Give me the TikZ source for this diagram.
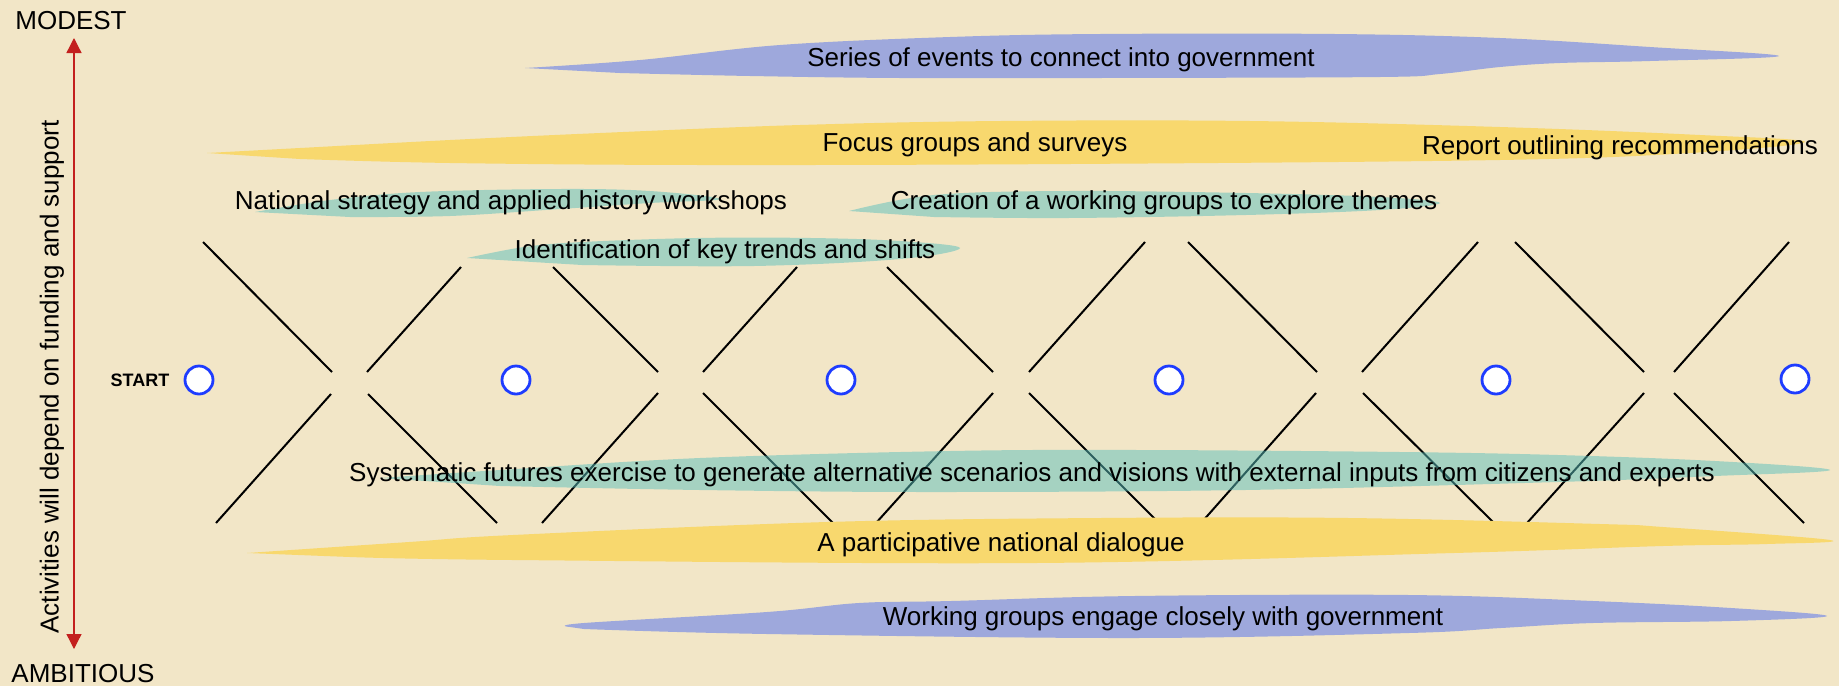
\documentclass[tikz,border=0pt]{standalone}
\usepackage{fontspec}
\setmainfont{Liberation Sans}
\usetikzlibrary{calc,arrows.meta,positioning}
\definecolor{paper}{RGB}{242,230,199}
\definecolor{brushblue}{RGB}{158,168,220}
\definecolor{brushyellow}{RGB}{248,216,110}
\definecolor{brushteal}{RGB}{90,192,189} % shown at half opacity
\definecolor{ringblue}{RGB}{30,60,255}
\definecolor{axisred}{RGB}{195,32,30}
\def\drawarm{\draw[color=black, line width=2pt]}
\def\fillblue{\fill[brushblue]}
\def\fillyellow{\fill[brushyellow]}
\def\fillteal{\fill[brushteal, fill opacity=0.5]}
\def\stagenode{\node[circle,draw=ringblue,fill=white,line width=2.8pt,minimum size=28pt,inner sep=0pt]}
\def\labelnode{\node[font=\fontsize{26}{30}\selectfont,inner sep=0pt]}

\begin{document}
\begin{tikzpicture}[x=1pt,y=-1pt]
\fill[paper] (0,0) rectangle (1839,686);
\useasboundingbox (0,0) rectangle (1839,686);

% ---------- the axis on the left
\coordinate (axtop) at (74,38);
\coordinate (axbot) at (74,649);
\draw[axisred, line width=1.3pt, {Triangle[width=15pt,length=15pt]}-{Triangle[width=15pt,length=15pt]}] (axtop) -- (axbot);
\labelnode (modest) at (71,21) {MODEST};
\labelnode (ambitious) at (83,674) {AMBITIOUS};
\labelnode[rotate=90] (axislabel) at (52,377) {Activities will depend on funding and support};

% ---------- the crossings between the stages
% X 1
\drawarm (203,242) -- (332,372);
\drawarm (367,372) -- (461,267);
\drawarm (331,394) -- (216,523);
\drawarm (368,394) -- (497,523);
% X 2
\drawarm (553,267) -- (658,372);
\drawarm (703,372) -- (797,267);
\drawarm (658,393) -- (542,523);
\drawarm (703,393) -- (833,523);
% X 3
\drawarm (887,267) -- (993,372);
\drawarm (1029,372) -- (1145,242);
\drawarm (993,393) -- (876,523);
\drawarm (1029,393) -- (1159,523);
% X 4
\drawarm (1188,242) -- (1317,372);
\drawarm (1362,372) -- (1478,242);
\drawarm (1316,393) -- (1201,523);
\drawarm (1363,393) -- (1494,523);
% X 5
\drawarm (1515,242) -- (1644,372);
\drawarm (1674,372) -- (1789,242);
\drawarm (1644,393) -- (1527,523);
\drawarm (1674,393) -- (1804,523);

% ---------- brush strokes, modest at the top
\fillblue plot[smooth, tension=0.6] coordinates {(525,68) (640,60) (780,45) (950,37) (1100,34) (1335,34) (1500,38) (1650,47) (1779,56) (1650,61) (1560,63) (1500,67) (1440,74) (1380,77) (1100,78) (900,78) (750,76) (620,73)} -- cycle;
\fillyellow plot[smooth, tension=0.6] coordinates {(207,153) (300,148) (450,140) (600,133) (800,125) (1000,121) (1250,121) (1500,127) (1700,135) (1805,142) (1690,153) (1500,160) (1070,164) (700,165) (450,163) (300,159)} -- cycle;
\fillteal plot[smooth, tension=0.6] coordinates {(255,212) (330,200) (420,192) (560,189) (650,191) (720,199) (650,203) (560,209) (450,216) (350,217)} -- cycle;
\fillteal plot[smooth, tension=0.6] coordinates {(849,211) (934,195) (1068,191) (1246,193) (1380,197) (1440,203) (1380,210) (1246,215) (1068,218) (934,217)} -- cycle;
\fillteal plot[smooth, tension=0.6] coordinates {(467,258) (524,247) (582,242) (697,238) (811,238) (900,241) (960,248) (900,259) (754,266) (582,265)} -- cycle;

% ---------- brush strokes, ambitious at the bottom
\fillteal plot[smooth, tension=0.6] coordinates {(380,478) (500,470) (700,458) (950,451) (1140,450) (1400,452) (1558,455) (1715,461) (1830,470) (1715,476) (1558,482) (1245,490) (931,492) (700,490) (500,486)} -- cycle;
\fillyellow plot[smooth, tension=0.6] coordinates {(247,553) (409,542) (513,535) (827,522) (1100,518) (1349,518) (1600,524) (1663,527) (1830,540) (1767,544) (1663,546) (1454,553) (1036,563) (513,560) (350,557)} -- cycle;
\fillblue plot[smooth, tension=0.6] coordinates {(570,627) (584,623) (767,612) (859,603) (951,601) (1134,596) (1409,595) (1593,601) (1731,608) (1827,616) (1731,621) (1593,623) (1501,628) (1409,633) (1134,638) (767,634) (584,629)} -- cycle;

% ---------- stages
\stagenode (s0) at (199,380) {};
\stagenode (s1) at (516,380) {};
\stagenode (s2) at (841,380) {};
\stagenode (s3) at (1169,380) {};
\stagenode (s4) at (1496,380) {};
\stagenode (s5) at (1795,379) {};
\node[font=\bfseries\fontsize{18}{20}\selectfont, inner sep=0pt, left=14pt of s0] (startlbl) {START};

% ---------- activity labels
\labelnode (events) at (1061,60) {Series of events to connect into government};
\labelnode (focus) at (975,145) {Focus groups and surveys};
\labelnode (report) at (1620,148) {Report outlining recommendations};
\labelnode (workshops) at (511,203) {National strategy and applied history workshops};
\labelnode (creation) at (1164,203) {Creation of a working groups to explore themes};
\labelnode (trends) at (725,252) {Identification of key trends and shifts};
\labelnode (futures) at (1032,475) {Systematic futures exercise to generate alternative scenarios and visions with external inputs from citizens and experts};
\labelnode (dialogue) at (1001,545) {A participative national dialogue};
\labelnode (engage) at (1163,619) {Working groups engage closely with government};
\end{tikzpicture}
\end{document}
